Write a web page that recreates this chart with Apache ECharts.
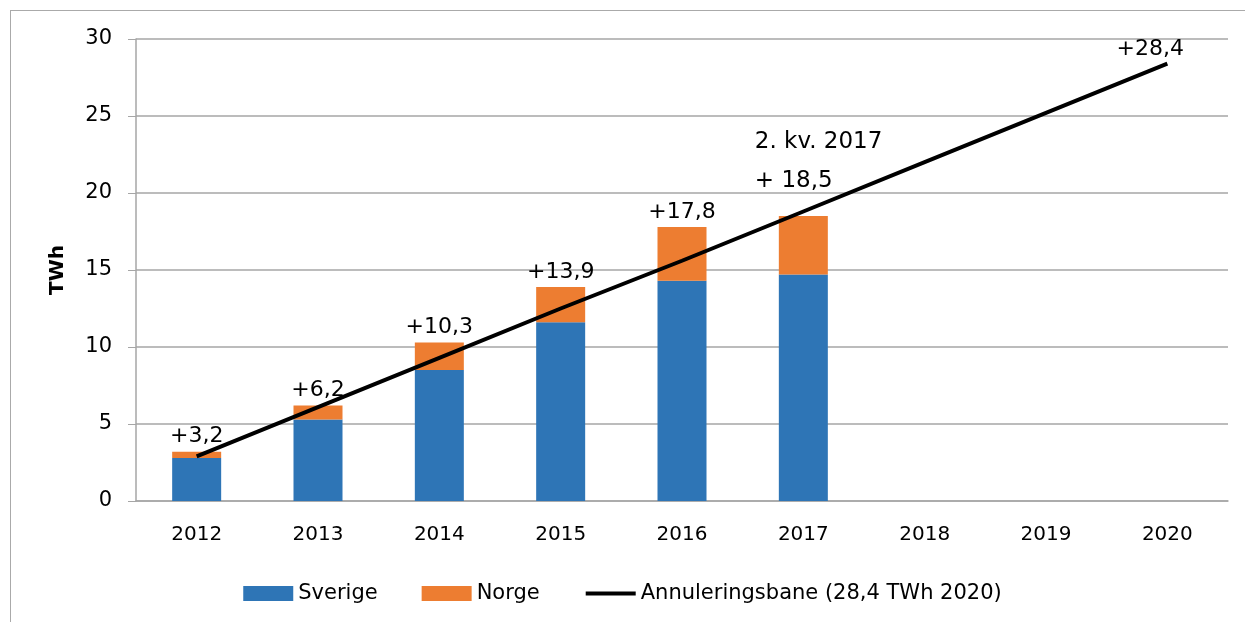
<!DOCTYPE html>
<html>
<head>
<meta charset="utf-8">
<script src="https://cdn.jsdelivr.net/npm/echarts@6/dist/echarts.min.js"></script>
<style>
html, body { margin: 0; padding: 0; background: #fff; overflow: hidden; }
#frame { position: absolute; left: 10px; top: 10px; width: 1300px; height: 700px; border-left: 1px solid #aaa; border-top: 1px solid #aaa; }
#chart { position: absolute; left: 0; top: 0; width: 1245px; height: 622px; }
</style>
</head>
<body>
<div id="frame"></div>
<div id="chart"></div>
<script>
var years = ['2012', '2013', '2014', '2015', '2016', '2017', '2018', '2019', '2020'];
var sverige = [2.8, 5.3, 8.5, 11.6, 14.3, 14.7];
var norge = [0.4, 0.9, 1.8, 2.3, 3.5, 3.8];
var totals = [3.2, 6.2, 10.3, 13.9, 17.8, 18.5];
var bane = [2.9, 6.1, 9.3, 12.5, 15.6, 18.8, 22.0, 25.2, 28.4];
var yTicks = [0, 5, 10, 15, 20, 25, 30];

var font = '"DejaVu Sans", sans-serif';
var fmt = function (v) { return String(v).replace('.', ','); };

var myChart = echarts.init(document.getElementById('chart'));
myChart.setOption({
    animation: false,
    textStyle: { fontFamily: font },
    grid: { left: 136, right: 17, top: 39, bottom: 121 },
    legend: {
        bottom: 13,
        left: 'center',
        itemWidth: 50,
        itemHeight: 15,
        itemGap: 44,
        textStyle: { fontSize: 21, color: '#000', fontFamily: font },
        data: [
            { name: 'Sverige', icon: 'rect' },
            { name: 'Norge', icon: 'rect' },
            {
                name: 'Annuleringsbane (28,4 TWh 2020)',
                itemStyle: { opacity: 0 },
                lineStyle: { width: 4, color: '#000' }
            }
        ]
    },
    xAxis: {
        type: 'category',
        data: years,
        axisLine: { lineStyle: { color: '#a6a6a6', width: 1.5 } },
        axisTick: { show: false },
        axisLabel: { color: '#000', fontSize: 20, margin: 24 }
    },
    yAxis: {
        type: 'value',
        min: yTicks[0],
        max: yTicks[yTicks.length - 1],
        interval: 5,
        name: 'TWh',
        nameLocation: 'middle',
        nameGap: 68,
        nameTextStyle: { fontSize: 20, fontWeight: 'bold', color: '#000' },
        axisLine: { show: true, lineStyle: { color: '#a6a6a6', width: 1.5 } },
        axisTick: { show: true, length: 8, lineStyle: { color: '#a6a6a6' } },
        axisLabel: { color: '#000', fontSize: 21, margin: 24 },
        splitLine: { lineStyle: { color: '#a6a6a6', width: 1.5 } }
    },
    series: [
        {
            name: 'Sverige',
            type: 'bar',
            stack: 'tot',
            barWidth: 49,
            itemStyle: { color: '#2e75b6' },
            data: sverige
        },
        {
            name: 'Norge',
            type: 'bar',
            stack: 'tot',
            barWidth: 49,
            itemStyle: { color: '#ed7d31' },
            label: {
                show: true,
                position: 'top',
                distance: 4,
                color: '#000',
                fontSize: 22,
                formatter: function (p) { return '+' + fmt(totals[p.dataIndex]); }
            },
            data: norge.map(function (v, i) {
                if (i !== 5) return v;
                return {
                    value: v,
                    label: {
                        position: [-24, -94],
                        align: 'left',
                        verticalAlign: 'top',
                        fontSize: 23,
                        lineHeight: 39,
                        formatter: '2. kv. 2017\n+ ' + fmt(totals[5])
                    }
                };
            })
        },
        {
            name: 'Annuleringsbane (28,4 TWh 2020)',
            type: 'line',
            symbol: 'none',
            z: 5,
            lineStyle: { color: '#000', width: 4 },
            itemStyle: { color: '#000' },
            endLabel: {
                show: true,
                color: '#000',
                fontSize: 22,
                align: 'center',
                verticalAlign: 'bottom',
                offset: [-25, -3],
                formatter: function (p) { return '+' + fmt(bane[bane.length - 1]); }
            },
            data: bane
        }
    ]
});
</script>
</body>
</html>
